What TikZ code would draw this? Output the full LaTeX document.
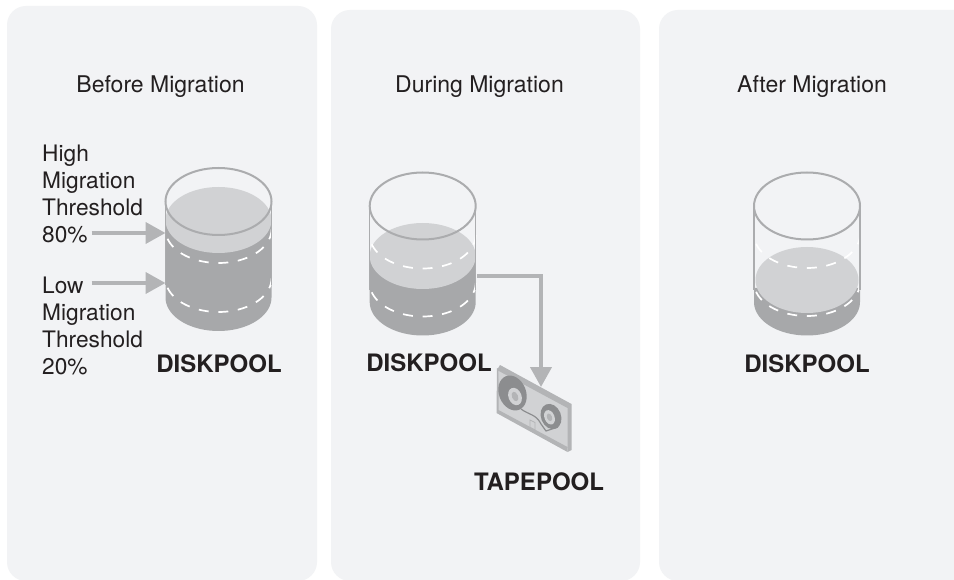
\documentclass[tikz,border=0pt]{standalone}
\usepackage{fontspec}
\setmainfont{TeX Gyre Heros}
\usetikzlibrary{arrows.meta}
\definecolor{panelbg}{HTML}{F2F3F5}
\definecolor{darkliq}{HTML}{A7A8AA}
\definecolor{lightliq}{HTML}{D1D2D4}
\definecolor{rimgray}{HTML}{ABACAE}
\definecolor{arrowgray}{HTML}{B3B4B6}
\definecolor{reelgray}{HTML}{8C8D8F}
\definecolor{inkblack}{HTML}{231F20}
\tikzset{
  panel/.style={fill=panelbg,draw=none,rounded corners=19pt},
  plain label/.style={font=\fontsize{22.7}{27}\selectfont,text=inkblack,inner sep=0pt,align=left},
  title label/.style={font=\fontsize{23}{27}\selectfont,text=inkblack,inner sep=0pt,anchor=base},
  pool label/.style={font=\fontsize{24}{27}\selectfont\bfseries,text=inkblack,inner sep=0pt,anchor=base},
  flow/.style={draw=arrowgray,line width=4pt,-{Triangle[length=20pt,width=21pt]}},
  dashes/.style={draw=white,line width=1.7pt,dash pattern=on 10pt off 9.66pt},
  rim/.style={draw=rimgray,line width=2pt},
}
% #1 cx, #2 top cy, #3 bottom cy, #4 dark start y, #5 liquid cy, #6 liquid rx, #7 dash1 cy, #8 dash2 cy
\newcommand{\drum}[8]{%
  \fill[darkliq] ({#1-53},#4) -- ({#1+53},#4) -- ({#1+53},#3)
     -- plot[domain=0:180,samples=50] ({#1+53*cos(\x)},{#3+33.5*sin(\x)}) -- cycle;
  \fill[lightliq] (#1,#5) ellipse [x radius=#6pt,y radius=33pt];
  \draw[dashes] plot[domain=0:180,samples=60] ({#1+53*cos(\x)},{#7+33.5*sin(\x)});
  \draw[dashes] plot[domain=0:180,samples=60] ({#1+53*cos(\x)},{#8+33.5*sin(\x)});
  \draw[rim,line width=1.2pt] ({#1-53},#2) -- ({#1-53},{#3-12}) ({#1+53},#2) -- ({#1+53},{#3-12});
  \draw[rim] (#1,#2) ellipse [x radius=53pt,y radius=33.5pt];
}
\begin{document}
\begin{tikzpicture}[x=1pt,y=-1pt]
\useasboundingbox (0,0) rectangle (954,580);
\clip (0,0) rectangle (954,580);
\fill[white] (0,0) rectangle (954,580);
\fill[panel] (7,6) rectangle (317,581);
\fill[panel] (331,10) rectangle (640,581);
\fill[panel] (659,10) rectangle (990,581);

\node[title label] (t1) at (160.5,92.5) {Before Migration};
\node[title label] (t2) at (479.5,92.5) {During Migration};
\node[title label] (t3) at (812,92.5) {After Migration};

% cylinders
\drum{218.5}{201.5}{297.5}{221}{220}{53}{229.5}{278.5}
\drum{422.7}{206}{302}{257}{256}{53}{235}{283}
\drum{807}{206}{302}{288}{280}{51.5}{234.5}{282.5}

% threshold labels
\node[plain label,anchor=base west] (high) at (42,243) {High\\Migration\\Threshold\\80\%};
\node[plain label,anchor=base west] (low) at (42,374) {Low\\Migration\\Threshold\\20\%};

\coordinate (hs) at (91.5,233);
\coordinate (he) at (165.5,233);
\coordinate (ls) at (91.5,283);
\coordinate (le) at (165.5,283);
\draw[flow] (hs) -- (he);
\draw[flow] (ls) -- (le);

\node[pool label] (d1) at (219,372.5) {DISKPOOL};
\node[pool label] (d2) at (429,371.5) {DISKPOOL};
\node[pool label] (d3) at (807,372.5) {DISKPOOL};
\node[pool label] (tp) at (539,490) {TAPEPOOL};

% cassette
\fill[lightliq] (499,368) -- (571,406) -- (568,448) -- (497,410) -- cycle;
\fill[arrowgray] (500,365) -- (571.5,404) -- (571.5,450) -- (567.5,452) -- (567.5,408) -- (497,370) -- cycle;
\fill[arrowgray] (497,368) -- (498.5,369) -- (498.5,410) -- (567.5,447) -- (567.5,452) -- (496.5,413) -- cycle;
\fill[reelgray] (512.5,393) ellipse [x radius=13.5pt,y radius=18pt,rotate=22];
\fill[lightliq] (515,396.5) ellipse [x radius=6.5pt,y radius=9pt,rotate=22];
\fill[arrowgray] (515,396.5) ellipse [x radius=3pt,y radius=5pt,rotate=22];
\fill[reelgray] (551,416.5) ellipse [x radius=10pt,y radius=13pt,rotate=22];
\fill[lightliq] (549.5,417.3) ellipse [x radius=5pt,y radius=7.5pt,rotate=22];
\fill[arrowgray] (549.5,417.3) ellipse [x radius=2.5pt,y radius=4pt,rotate=22];
\draw[reelgray,line width=1.2pt] (521,409) .. controls (529,415) and (536,414) .. (541,424) -- (546,431) -- (558,427);
\draw[arrowgray,line width=0.8pt] (530,420) -- (535,422.5) -- (535,430) -- (530,427.5) -- cycle;

\coordinate (tin) at (541,387);
\coordinate (dout) at (477,276);
\draw[flow,rounded corners=0pt] (dout) -| (tin);
\end{tikzpicture}
\end{document}
